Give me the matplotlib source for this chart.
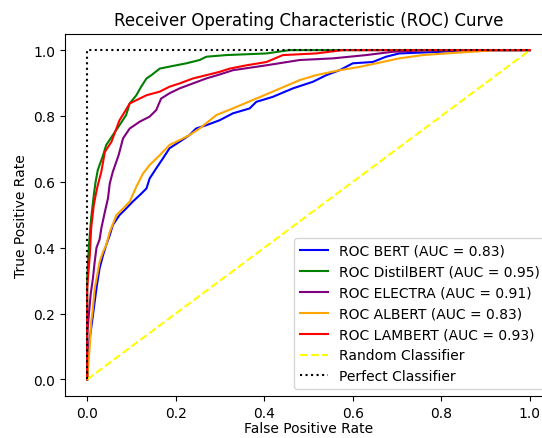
import matplotlib
matplotlib.use("Agg")
import matplotlib.pyplot as plt

# Curvas ROC (FPR, TPR)
bert_fpr = [0, 0.002, 0.006, 0.012, 0.017, 0.022, 0.028, 0.036, 0.043, 0.051, 0.058, 0.073, 0.088, 0.103,
            0.119, 0.134, 0.141, 0.156, 0.171, 0.186, 0.209, 0.231, 0.246, 0.269, 0.299, 0.329, 0.367, 0.382,
            0.419, 0.465, 0.51, 0.54, 0.57, 0.60, 0.645, 0.675, 0.705, 0.80, 0.85, 1.0]
bert_tpr = [0, 0.074, 0.125, 0.185, 0.236, 0.286, 0.337, 0.378, 0.408, 0.438, 0.469, 0.499, 0.519, 0.540,
            0.560, 0.580, 0.61, 0.641, 0.671, 0.702, 0.722, 0.742, 0.762, 0.772, 0.787, 0.808, 0.823, 0.843,
            0.858, 0.884, 0.904, 0.924, 0.939, 0.960, 0.964, 0.980, 0.990, 0.995, 1.0, 1.0]

distil_fpr = [0, 0, 0.004, 0.009, 0.015, 0.019, 0.024, 0.036, 0.043, 0.058, 0.073, 0.088, 0.096, 0.111,
              0.122, 0.134, 0.145, 0.164, 0.186, 0.224, 0.254, 0.269, 0.314, 0.405, 0.457, 1.0]
distil_tpr = [0, 0.307, 0.408, 0.489, 0.56, 0.6, 0.636, 0.681, 0.712, 0.742, 0.772, 0.803, 0.838, 0.863,
              0.889, 0.914, 0.924, 0.944, 0.950, 0.960, 0.970, 0.980, 0.985, 0.990, 1.0, 1.0]

electra_fpr = [0, 0, 0.004, 0.008, 0.013, 0.017, 0.021, 0.028, 0.032, 0.040, 0.047, 0.051, 0.058, 0.071,
               0.081, 0.096, 0.119, 0.141, 0.156, 0.167, 0.186, 0.209, 0.239, 0.269, 0.299, 0.329, 0.405,
               0.48, 0.555, 0.63, 0.69, 0.77, 1.0]
electra_tpr = [0, 0.135, 0.2, 0.26, 0.307, 0.357, 0.4, 0.425, 0.459, 0.509, 0.55, 0.595, 0.631, 0.681,
               0.732, 0.762, 0.783, 0.798, 0.818, 0.853, 0.869, 0.884, 0.899, 0.914, 0.926, 0.939, 0.954,
               0.97, 0.975, 0.985, 0.995, 1.0, 1.0]

albert_fpr = [0, 0.006, 0.009, 0.012, 0.017, 0.024, 0.028, 0.036, 0.043, 0.051, 0.066, 0.081, 0.096, 0.111,
              0.126, 0.141, 0.164, 0.186, 0.209, 0.231, 0.254, 0.292, 0.329, 0.382, 0.419, 0.48, 0.517, 0.57,
              0.615, 0.66, 0.705, 0.758, 0.81, 0.87, 0.923, 1.0]
albert_tpr = [0, 0.104, 0.175, 0.205, 0.276, 0.327, 0.357, 0.388, 0.408, 0.448, 0.499, 0.519, 0.540, 0.585,
              0.625, 0.651, 0.681, 0.712, 0.727, 0.742, 0.762, 0.803, 0.823, 0.853, 0.874, 0.909, 0.924, 0.939,
              0.949, 0.962, 0.975, 0.985, 0.990, 0.995, 1.0, 1.0]

lambert_fpr = [0, 0, 0.003, 0.006, 0.009, 0.015, 0.020, 0.024, 0.032, 0.040, 0.055, 0.066, 0.073, 0.085,
               0.096, 0.111, 0.134, 0.164, 0.186, 0.209, 0.239, 0.269, 0.299, 0.322, 0.36, 0.405, 0.442,
               0.517, 0.577, 1.0]
lambert_tpr = [0, 0.276, 0.33, 0.378, 0.459, 0.53, 0.565, 0.59, 0.631, 0.691, 0.722, 0.762, 0.787, 0.813,
               0.838, 0.848, 0.863, 0.874, 0.889, 0.899, 0.914, 0.924, 0.934, 0.944, 0.954, 0.964, 0.985,
               0.990, 1.0, 1.0]

modelos = ["BERT", "DistilBERT", "ELECTRA", "ALBERT", "LAMBERT"]
auc = [0.83, 0.95, 0.91, 0.83, 0.93]
colores = ["blue", "green", "purple", "orange", "red"]
curvas = [(bert_fpr, bert_tpr), (distil_fpr, distil_tpr), (electra_fpr, electra_tpr),
          (albert_fpr, albert_tpr), (lambert_fpr, lambert_tpr)]

fig = plt.figure(figsize=(5.42, 4.39), dpi=100)
ax = fig.add_axes([0.120, 0.096, 0.8985, 0.825])

for (fpr, tpr), nombre, a, c in zip(curvas, modelos, auc, colores):
    ax.plot(fpr, tpr, color=c, label=f"ROC {nombre} (AUC = {a:.2f})")

ax.plot([0, 1], [0, 1], color="yellow", linestyle="--", label="Random Classifier")
ax.plot([0, 0, 1], [0, 1, 1], color="black", linestyle=":", label="Perfect Classifier")

ax.set_xlabel("False Positive Rate", labelpad=1)
ax.set_ylabel("True Positive Rate")
ax.set_title("Receiver Operating Characteristic (ROC) Curve")
ax.legend(loc="lower right")

fig.savefig("out.png", dpi=100)
